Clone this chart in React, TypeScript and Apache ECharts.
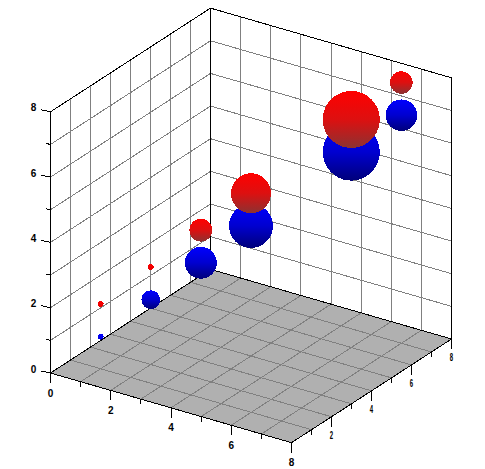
import React, { useEffect, useRef } from "react";
import * as echarts from "echarts";

// Data
const xValues = [1, 2, 3, 4, 6, 7];
const yValues = [1, 2, 3, 4, 6, 7];
const blueZ = [1, 2, 3, 4, 6, 7];
const redZ = [2, 3, 4, 5, 7, 8];
const blueRadius = [3, 9.3, 16, 22, 28.5, 15.8];
const redRadius = [3, 3, 11.5, 20, 28.5, 11.3];
const gridSteps = [1, 2, 3, 4, 5, 6, 7];
const wallLevels = [1, 2, 3, 4, 5, 6, 7];
const xTickLabels = ["0", "2", "4", "6", "8"];
const yTickLabels = ["2", "4", "6", "8"];
const zTickLabels = ["0", "2", "4", "6", "8"];

const W = 485;
const H = 469;
const AXIS_MAX = 8;

// axonometric projection into the hidden plot axes
const project = (x: number, y: number, z: number): [number, number] => [
  50.5 + x * 30.125 + y * 20,
  H - (373 + x * 8.71 - y * 12.96 - z * 32.65),
];

type Seg = number[];
const wallSegs: Seg[] = [];
const floorSegs: Seg[] = [];
gridSteps.forEach((v) => {
  wallSegs.push([0, v, 0, 0, v, AXIS_MAX]);
  wallSegs.push([v, AXIS_MAX, 0, v, AXIS_MAX, AXIS_MAX]);
  floorSegs.push([v, 0, 0, v, AXIS_MAX, 0]);
  floorSegs.push([0, v, 0, AXIS_MAX, v, 0]);
});
wallLevels.forEach((v) => {
  wallSegs.push([0, 0, v, 0, AXIS_MAX, v]);
  wallSegs.push([0, AXIS_MAX, v, AXIS_MAX, AXIS_MAX, v]);
});
const borderSegs: Seg[] = [
  [0, 0, 0, 0, 0, AXIS_MAX],
  [0, AXIS_MAX, 0, 0, AXIS_MAX, AXIS_MAX],
  [AXIS_MAX, AXIS_MAX, 0, AXIS_MAX, AXIS_MAX, AXIS_MAX],
  [0, 0, AXIS_MAX, 0, AXIS_MAX, AXIS_MAX],
  [0, AXIS_MAX, AXIS_MAX, AXIS_MAX, AXIS_MAX, AXIS_MAX],
  [0, 0, 0, AXIS_MAX, 0, 0],
  [AXIS_MAX, 0, 0, AXIS_MAX, AXIS_MAX, 0],
  [0, 0, 0, 0, AXIS_MAX, 0],
  [0, AXIS_MAX, 0, AXIS_MAX, AXIS_MAX, 0],
];

// ticks: x, y, z, axis (0 x / 1 y / 2 z), major flag
const tickData: number[][] = [];
for (let v = 0; v <= AXIS_MAX; v++) {
  const major = v % 2 === 0 ? 1 : 0;
  tickData.push([v, 0, 0, 0, major]);
  if (v > 0) tickData.push([AXIS_MAX, v, 0, 1, major]);
  tickData.push([0, 0, v, 2, major]);
}

const labelData: (number | string)[][] = [
  ...xTickLabels.map((t) => [Number(t), 0, 0, 0, t]),
  ...yTickLabels.map((t) => [AXIS_MAX, Number(t), 0, 1, t]),
  ...zTickLabels.map((t) => [0, 0, Number(t), 2, t]),
];

const sphereData: number[][] = [];
xValues.forEach((x, i) => {
  sphereData.push([x, yValues[i], blueZ[i], blueRadius[i], 0]);
  sphereData.push([x, yValues[i], redZ[i], redRadius[i], 1]);
});

const segSeries = (data: Seg[], color: string) => ({
  type: "custom",
  silent: true,
  data,
  renderItem: (_: any, api: any) => {
    const a = api.coord(project(api.value(0), api.value(1), api.value(2)));
    const b = api.coord(project(api.value(3), api.value(4), api.value(5)));
    return {
      type: "line",
      shape: { x1: a[0], y1: a[1], x2: b[0], y2: b[1] },
      style: { stroke: color, lineWidth: 1, fill: "none" },
    };
  },
});

export default function App() {
  const ref = useRef<HTMLDivElement>(null);
  useEffect(() => {
    document.body.style.margin = "0";
    const css = document.createElement("style");
    css.textContent = "#root svg path, #root svg circle, #root svg line, #root svg polygon { shape-rendering: crispEdges; }";
    document.head.appendChild(css);
    const chart = echarts.init(ref.current!, undefined, { renderer: "svg" });
    chart.setOption({
      animation: false,
      backgroundColor: "#ffffff",
      grid: { left: 0, right: 0, top: 0, bottom: 0 },
      xAxis: { type: "value", min: 0, max: W, show: false },
      yAxis: { type: "value", min: 0, max: H, show: false },
      series: [
        {
          type: "custom",
          silent: true,
          data: [[0, 0, AXIS_MAX]],
          renderItem: (_: any, api: any) => {
            const m = api.value(2);
            const pts = [[0, 0], [m, 0], [m, m], [0, m]].map(([x, y]) => api.coord(project(x, y, 0)));
            return { type: "polygon", shape: { points: pts }, style: { fill: "#b0b0b0", stroke: "none" } };
          },
        },
        segSeries(wallSegs, "#808080"),
        segSeries(floorSegs, "#808080"),
        segSeries(borderSegs, "#000000"),
        {
          type: "custom",
          silent: true,
          data: tickData,
          renderItem: (_: any, api: any) => {
            const a = api.coord(project(api.value(0), api.value(1), api.value(2)));
            const axis = api.value(3);
            const len = api.value(4) ? 1 : 0.52;
            const dx = axis === 2 ? -9.3 * len : 0;
            const dy = axis === 2 ? -2 * len : 10 * len;
            return {
              type: "line",
              shape: { x1: a[0], y1: a[1], x2: a[0] + dx, y2: a[1] + dy },
              style: { stroke: "#000000", lineWidth: 1, fill: "none" },
            };
          },
        },
        {
          type: "custom",
          silent: true,
          data: labelData,
          renderItem: (_: any, api: any) => {
            const a = api.coord(project(api.value(0), api.value(1), api.value(2)));
            const axis = api.value(3);
            const off = axis === 2 ? [-17, -4] : axis === 1 ? [0, 19] : [0, 20];
            return {
              type: "text",
              x: a[0] + off[0],
              y: a[1] + off[1],
              scaleX: axis === 1 ? 0.6 : 1,
              originX: 0,
              originY: 0,
              style: {
                text: String(api.value(4)),
                fill: "#000000",
                font: 'bold 10px "Liberation Sans"',
                align: "center",
                verticalAlign: "middle",
              },
            };
          },
        },
        {
          type: "custom",
          silent: true,
          data: sphereData,
          renderItem: (_: any, api: any) => {
            const c = api.coord(project(api.value(0), api.value(1), api.value(2)));
            const red = api.value(4) === 1;
            const r = api.value(3);
            const mid = r < 4 ? (red ? "#f00000" : "#0000f0") : red ? "#dd1010" : "#0000d0";
            const end = r < 4 ? (red ? "#e80000" : "#0000e0") : red ? "#8c3232" : "#00007a";
            return {
              type: "circle",
              shape: { cx: c[0], cy: c[1] + 0.5, r },
              style: {
                fill: new echarts.graphic.LinearGradient(0, 0, 0, 1, [
                  { offset: 0, color: red ? "#ff0000" : "#0000ff" },
                  { offset: 0.5, color: mid },
                  { offset: 1, color: end },
                ]),
              },
            };
          },
        },
      ],
    });
    return () => {
      chart.dispose();
      css.remove();
    };
  }, []);
  return <div ref={ref} style={{ width: W, height: H }} />;
}
